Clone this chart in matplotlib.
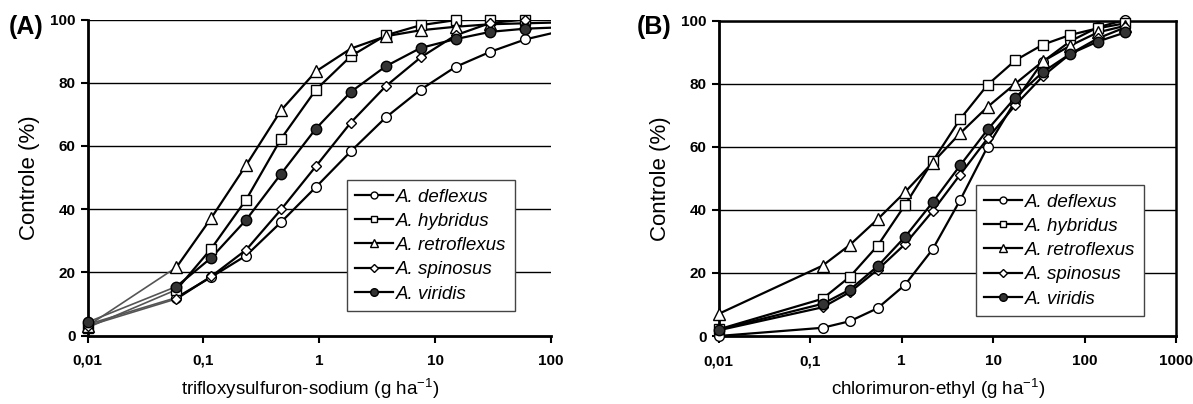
import matplotlib
matplotlib.use("Agg")
import matplotlib.pyplot as plt
from matplotlib.ticker import FixedLocator, FixedFormatter, NullLocator
from matplotlib.lines import Line2D

plt.rcParams['font.family'] = ['Liberation Sans', 'DejaVu Sans']

species = ["A. deflexus", "A. hybridus", "A. retroflexus", "A. spinosus", "A. viridis"]

# Panel A: trifloxysulfuron-sodium
dose_a = [0.01, 0.0586, 0.117, 0.234, 0.469, 0.9375, 1.875, 3.75, 7.5, 15, 30, 60]
a_deflexus = [3.5, 12.0, 18.5, 25.3, 35.9, 47.0, 58.3, 69.0, 77.8, 85.0, 89.8, 93.7]
a_hybridus = [2.5, 14.5, 27.5, 43.0, 62.3, 77.8, 88.4, 95.0, 98.2, 99.8, 100, 100]
a_retroflexus = [3.0, 21.6, 37.2, 53.9, 71.3, 83.6, 90.8, 94.7, 96.6, 97.7, 98.5, 98.8]
a_spinosus = [3.0, 11.6, 18.7, 27.1, 39.9, 53.6, 67.4, 78.9, 88.0, 95.0, 98.9, 100]
a_viridis = [4.2, 15.5, 24.6, 36.6, 51.2, 65.5, 77.1, 85.2, 91.0, 93.8, 96.1, 97.1]
# fitted curves continue to the axis end (dose 100)
a_curve_end_dose = 100
a_curve_end = [95.6, 100, 99.0, 100, 97.4]

# Panel B: chlorimuron-ethyl
dose_b = [0.01, 0.137, 0.273, 0.547, 1.09, 2.19, 4.375, 8.75, 17.5, 35, 70, 140, 280]
b_deflexus = [0.0, 2.6, 4.7, 8.8, 16.2, 27.5, 43.1, 60.1, 74.5, 87.0, 93.5, 97.9, 100.3]
b_hybridus = [2.1, 11.8, 18.8, 28.6, 41.5, 55.4, 68.8, 79.7, 87.4, 92.4, 95.5, 97.6, 99.2]
b_retroflexus = [7.0, 22.3, 28.9, 37.0, 45.6, 55.0, 64.3, 72.7, 80.0, 87.1, 92.1, 96.3, 98.4]
b_spinosus = [1.8, 9.1, 13.9, 21.0, 29.1, 39.6, 51.2, 62.7, 73.2, 82.4, 89.5, 94.4, 97.9]
b_viridis = [2.0, 10.2, 14.7, 22.1, 31.4, 42.4, 54.1, 65.5, 75.6, 83.7, 89.5, 93.4, 96.3]

yticks = [0, 20, 40, 60, 80, 100]
a_xticks = [0.01, 0.1, 1, 10, 100]
a_xticklabels = ["0,01", "0,1", "1", "10", "100"]
b_xticks = [0.01, 0.1, 1, 10, 100, 1000]
b_xticklabels = ["0,01", "0,1", "1", "10", "100", "1000"]

markers = ["o", "s", "^", "D", "o"]
mfaces = ["white", "white", "white", "white", "#333333"]
msizes = [7, 7, 8, 5.5, 7.5]
leg_msizes = [5, 5, 6, 4, 5.5]

fig = plt.figure(figsize=(11.93, 4.04), dpi=100)
axA = fig.add_axes([87.5/1193, 1-335.5/404, (551-87.5)/1193, (335.5-19.5)/404])
axB = fig.add_axes([718.5/1193, 1-336/404, (1176-718.5)/1193, (336-20.7)/404])


def style_axis(ax, xticks, xlabels, xlim, xlabel, box):
    ax.set_xscale("log")
    ax.set_xlim(*xlim)
    ax.set_ylim(0, 100)
    ax.xaxis.set_major_locator(FixedLocator(xticks))
    ax.xaxis.set_major_formatter(FixedFormatter(xlabels))
    ax.xaxis.set_minor_locator(NullLocator())
    ax.set_yticks(yticks)
    ax.tick_params(axis="both", labelsize=11, width=1.5, length=5, direction="out")
    ax.tick_params(axis="x", pad=8)
    for lab in ax.get_xticklabels() + ax.get_yticklabels():
        lab.set_fontweight("bold")
    for y in yticks[1:]:
        ax.axhline(y, color="black", lw=1.0, zorder=1)
    ax.spines["left"].set_linewidth(2)
    ax.spines["bottom"].set_linewidth(2)
    if box:
        ax.spines["right"].set_linewidth(1.8)
        ax.spines["top"].set_linewidth(1.8)
    else:
        ax.spines["right"].set_visible(False)
        ax.spines["top"].set_visible(False)
    ax.set_ylabel("Controle (%)", fontsize=16, labelpad=7)
    ax.set_xlabel(xlabel, fontsize=13.5)
    ax.xaxis.set_label_coords(0.48, -0.128)


# Panel A
seriesA = [a_deflexus, a_hybridus, a_retroflexus, a_spinosus, a_viridis]
for i, vals in enumerate(seriesA):
    # first segment drawn thin and grey as in the original
    axA.plot(dose_a[:2], vals[:2], color="#555555", lw=1.2, zorder=2)
    axA.plot(dose_a[1:] + [a_curve_end_dose], vals[1:] + [a_curve_end[i]],
             color="black", lw=1.6, zorder=3, solid_joinstyle="round")
for i, vals in enumerate(seriesA):
    axA.plot(dose_a, vals, linestyle="none", marker=markers[i], ms=msizes[i],
             mfc=mfaces[i], mec="black", mew=1.0, zorder=4, clip_on=False)
style_axis(axA, a_xticks, a_xticklabels, (0.01, 100),
           "trifloxysulfuron-sodium (g ha$^{\\mathregular{-1}}$)", box=False)

# Panel B
seriesB = [b_deflexus, b_hybridus, b_retroflexus, b_spinosus, b_viridis]
for i, vals in enumerate(seriesB):
    axB.plot(dose_b, vals, color="black", lw=1.6, zorder=3, solid_joinstyle="round")
for i, vals in enumerate(seriesB):
    axB.plot(dose_b, vals, linestyle="none", marker=markers[i], ms=msizes[i],
             mfc=mfaces[i], mec="black", mew=1.0, zorder=4, clip_on=False)
style_axis(axB, b_xticks, b_xticklabels, (0.01, 1000),
           "chlorimuron-ethyl (g ha$^{\\mathregular{-1}}$)", box=True)

# Legends
leg_handles = [Line2D([], [], color="black", lw=1.6, marker=markers[i], ms=leg_msizes[i],
                      mfc=mfaces[i], mec="black", mew=1.0) for i in range(5)]
for ax, bbox in [(axA, (347, 180, 534, 322)), (axB, (976, 185, 1163, 325))]:
    x0, y0, x1, y1 = bbox
    leg = ax.legend(leg_handles, species, loc="upper left",
                    bbox_to_anchor=(x0/1193, 1-y0/404), bbox_transform=fig.transFigure,
                    prop={"size": 13.5, "style": "italic"}, frameon=True, fancybox=False,
                    edgecolor="#444444", handlelength=2.0, handletextpad=0.15,
                    labelspacing=0.38, borderpad=0.45, borderaxespad=0, framealpha=1)
    leg.get_frame().set_linewidth(1.0)
    leg.set_zorder(5)

fig.text(9/1193, 1-27/404, "(A)", fontsize=18, fontweight="bold", va="center", ha="left")
fig.text(637/1193, 1-27/404, "(B)", fontsize=18, fontweight="bold", va="center", ha="left")

fig.savefig("out.png", dpi=100)
